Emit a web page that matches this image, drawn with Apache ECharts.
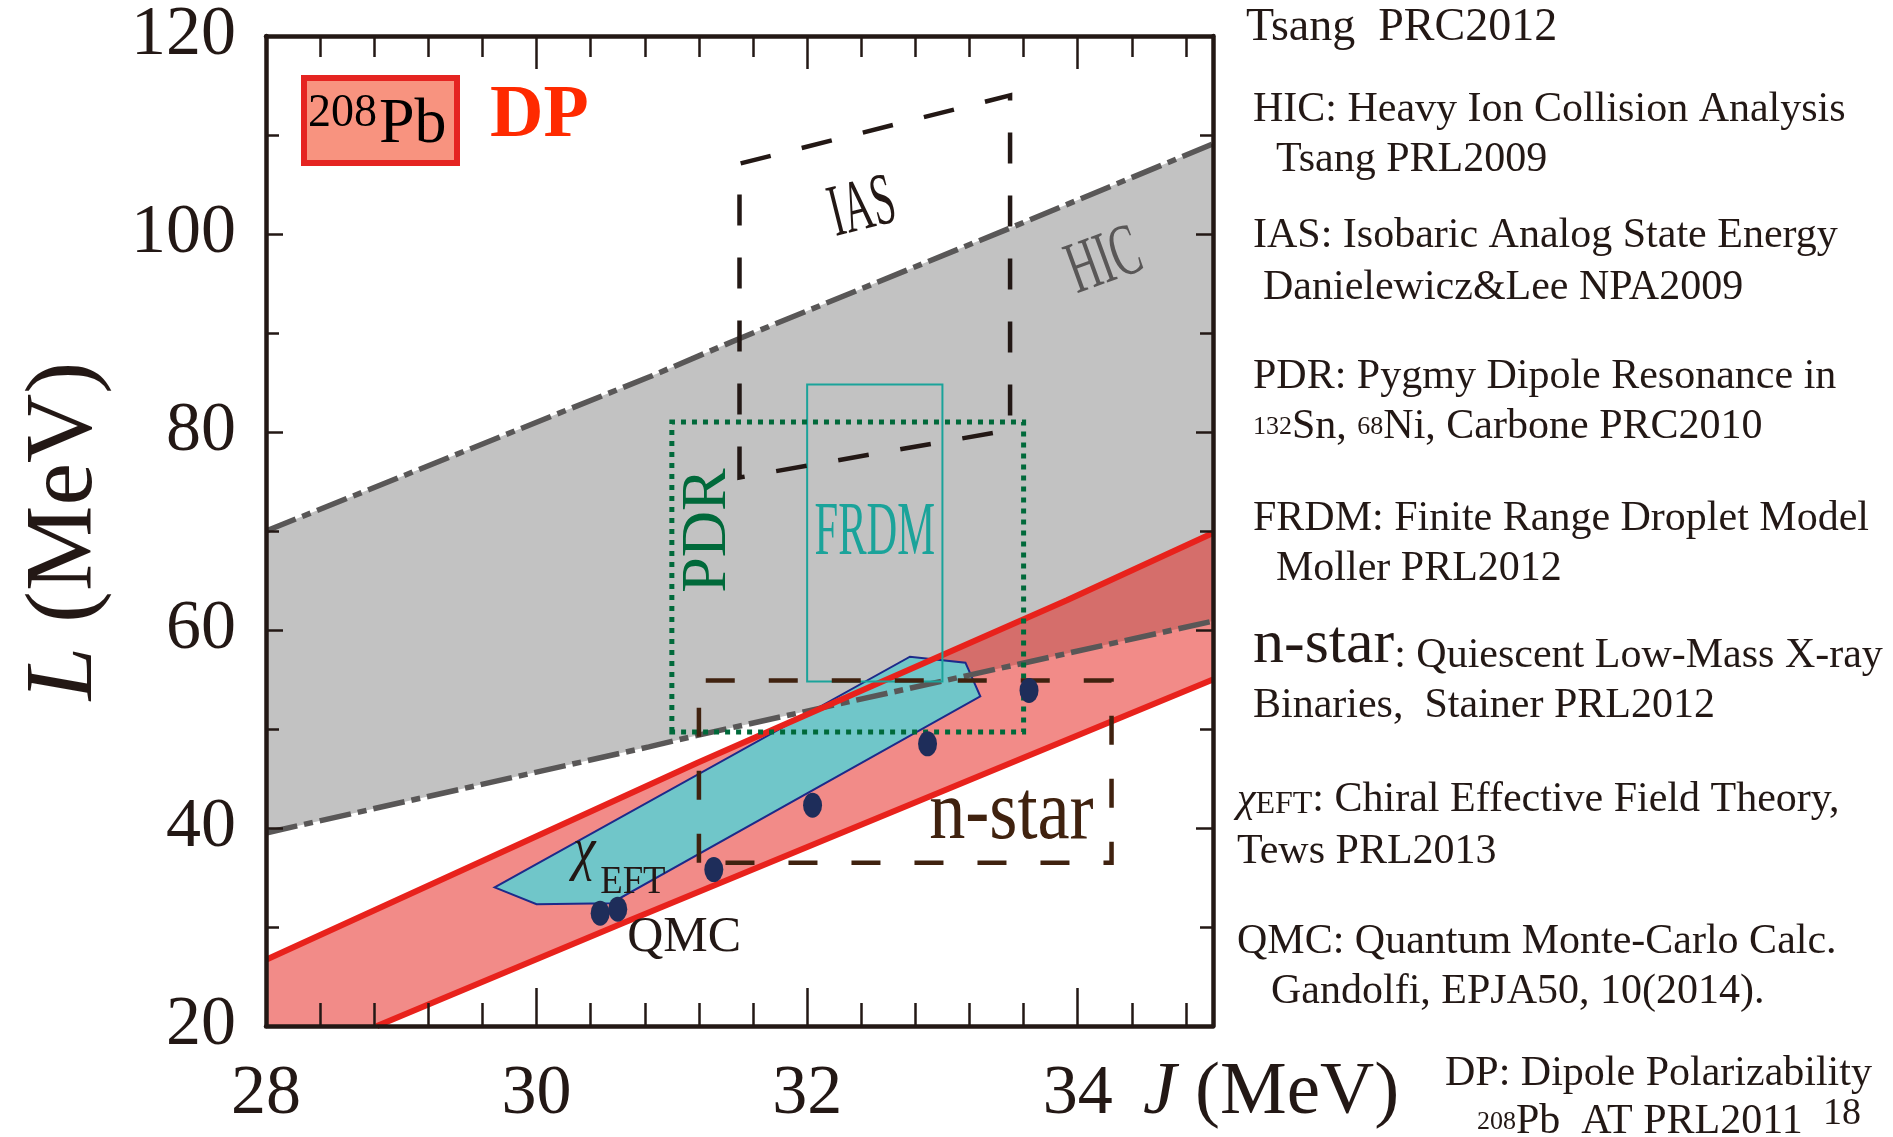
<!DOCTYPE html>
<html>
<head>
<meta charset="utf-8">
<title>Symmetry energy constraints</title>
<script src="https://cdn.jsdelivr.net/npm/echarts@6/dist/echarts.min.js"></script>
<style>
  html, body { margin: 0; padding: 0; background: #ffffff; }
  #chart { width: 1893px; height: 1137px; }
</style>
</head>
<body>
<div id="chart"></div>
<script>
// ---------------------------------------------------------------
// Constraints on the symmetry energy J and its slope L (both MeV)
// ---------------------------------------------------------------
const jTicks = [28, 30, 32, 34];          // labelled J ticks
const lTicks = [20, 40, 60, 80, 100, 120]; // labelled L ticks
const jMax = 35;

// HIC band edges (heavy ion collisions)
const hicUpper = [[28, 70.0], [30.84, 85.6], [31.51, 89.5], [33.5, 100.6], [35, 109.1]];
const hicLower = [[28, 39.5], [30.83, 48.2], [31.17, 49.3], [35, 60.9]];

// 208Pb dipole polarizability band edges
const dpUpper = [[28, 26.7], [31.19, 46.6], [33.92, 63.0], [35, 69.8]];
const dpLower = [[28.82, 20.0], [30.64, 30.4], [35, 55.0]];

// chiral EFT region
const chiEftRegion = [[29.69, 34.0], [30.0, 32.3], [30.55, 32.4], [33.28, 53.3], [33.17, 56.7], [32.76, 57.3]];

// IAS region (corners)
const iasRegion = [[31.5, 75.4], [31.5, 107.1], [33.5, 114.0], [33.5, 80.2]];

// rectangular constraints: J range, L range
const pdrJ = [31.0, 33.6],   pdrL = [49.7, 81.0];
const frdmJ = [32.0, 33.0],  frdmL = [54.8, 84.8];
const nstarJ = [31.2, 34.25], nstarL = [36.5, 54.9];

// QMC calculations
const qmcJ = [30.47, 30.60, 31.31, 32.04, 32.89, 33.64];
const qmcL = [31.4, 31.8, 35.8, 42.3, 48.5, 53.9];

// region names placed in (J, L)
const regionLabels = [
  { text: 'IAS',    at: [32.41, 102.5] },
  { text: 'HIC',    at: [34.2, 97.1] },
  { text: 'FRDM',   at: [32.5, 69.7] },
  { text: 'PDR',    at: [31.27, 70.05] },
  { text: 'n-star', at: [33.51, 41.2] },
  { text: 'QMC',    at: [30.67, 28.9] },
  { text: 'χ',      at: [30.27, 37.6] },
  { text: 'EFT',    at: [30.47, 34.46] }
];

// reference list
const noteLines = [
  'Tsang  PRC2012',
  'HIC: Heavy Ion Collision Analysis',
  'Tsang PRL2009',
  'IAS: Isobaric Analog State Energy',
  'Danielewicz&Lee NPA2009',
  'PDR: Pygmy Dipole Resonance in',
  '{sup|132}Sn, {sup|68}Ni, Carbone PRC2010',
  'FRDM: Finite Range Droplet Model',
  'Moller PRL2012',
  '{big|n-star}{t|: Quiescent Low-Mass X-ray}',
  'Binaries,  Stainer PRL2012',
  '{chi|χ}{sub|EFT}: Chiral Effective Field Theory,',
  'Tews PRL2013',
  'QMC: Quantum Monte-Carlo Calc.',
  'Gandolfi, EPJA50, 10(2014).',
  'DP: Dipole Polarizability',
  '{sup|208}Pb  AT PRL2011',
  '{pg|18}'
];

// ---------------------------------------------------------------
const SERIF = '"Liberation Serif", "Times New Roman", Times, serif';
const INK = '#231815';

// pixel anchors (left, middle) of the reference list lines
const noteAnchors = [
  [1246, 28], [1253, 110], [1276, 160], [1253, 236], [1263, 288],
  [1253, 377], [1253, 427], [1253, 519], [1276, 569], [1253, 646],
  [1253, 706], [1237, 800], [1237, 852], [1237, 942], [1271, 992],
  [1445, 1074], [1477, 1122], [1823, 1114]
];

const labelStyle = {
  'IAS':    { color: INK,       size: 74, scaleX: 0.55, rotate: 14 },
  'HIC':    { color: '#595757', size: 74, scaleX: 0.58, rotate: 20 },
  'FRDM':   { color: '#1ba39a', size: 76, scaleX: 0.56 },
  'PDR':    { color: '#00693a', size: 64, rotate: 90 },
  'n-star': { color: '#40220f', size: 84, scaleX: 0.86 },
  'QMC':    { color: INK,       size: 50, align: 'left' },
  'χ':      { color: INK,       size: 60, scaleX: 0.85, align: 'left', italic: true },
  'EFT':    { color: INK,       size: 40, scaleX: 0.92, align: 'left' }
};

function rectCorners(j, l) {
  return [[j[0], l[0]], [j[0], l[1]], [j[1], l[1]], [j[1], l[0]]];
}

function regionSeries(name, points, style, z) {
  return {
    type: 'custom',
    name: name,
    coordinateSystem: 'cartesian2d',
    xAxisIndex: 0, yAxisIndex: 0,
    silent: true,
    clip: true,
    z: z,
    encode: { x: 0, y: 1 },
    data: points,
    renderItem: function (params, api) {
      if (params.dataIndex !== 0) return null;
      return {
        type: 'polygon',
        shape: { points: points.map(function (p) { return api.coord(p); }) },
        style: style
      };
    }
  };
}

function edgeSeries(name, points, lineStyle, z) {
  return {
    type: 'line', name: name, data: points,
    xAxisIndex: 0, yAxisIndex: 0,
    symbol: 'none', showSymbol: false, silent: true, clip: true,
    lineStyle: lineStyle, z: z
  };
}

const xMin = jTicks[0], yMin = lTicks[0];
const hicPolygon = hicUpper.concat(hicLower.slice().reverse());
const dpPolygon = dpUpper.concat(dpLower.slice().reverse(), [[xMin, yMin]]);

function tickFormatter(list) {
  return function (v) { return list.indexOf(v) >= 0 ? String(v) : ''; };
}

const axisLineStyle = { color: INK, width: 4.5 };
const tickLine = { color: INK, width: 2.5 };

function xAxisCfg(position, showLabel, majorLen, minorLen) {
  return {
    type: 'value', position: position,
    min: jTicks[0], max: jMax, interval: jTicks[1] - jTicks[0],
    z: 10,
    axisLine: { show: true, onZero: false, lineStyle: axisLineStyle },
    axisTick: { show: true, inside: true, length: majorLen, lineStyle: tickLine },
    minorTick: { show: true, splitNumber: 5, length: minorLen, lineStyle: tickLine },
    splitLine: { show: false },
    axisLabel: {
      show: showLabel, margin: 34, fontSize: 70, fontFamily: SERIF, color: INK,
      formatter: tickFormatter(jTicks)
    }
  };
}

function yAxisCfg(position, showLabel) {
  return {
    type: 'value', position: position,
    min: lTicks[0], max: lTicks[lTicks.length - 1], interval: lTicks[1] - lTicks[0],
    z: 10,
    axisLine: { show: true, onZero: false, lineStyle: axisLineStyle },
    axisTick: { show: true, inside: true, length: 17, lineStyle: tickLine },
    minorTick: { show: true, splitNumber: 2, length: 13, lineStyle: tickLine },
    splitLine: { show: false },
    axisLabel: {
      show: showLabel, margin: 30, fontSize: 70, fontFamily: SERIF, color: INK,
      formatter: tickFormatter(lTicks)
    }
  };
}

const xBottom = xAxisCfg('bottom', true, 38, 23);
xBottom.name = '{i|J} (MeV)';
xBottom.nameLocation = 'end';
xBottom.nameGap = -70;
xBottom.nameMoveOverlap = false;
xBottom.nameTextStyle = {
  fontSize: 75, fontFamily: SERIF, color: INK,
  align: 'left', verticalAlign: 'top', padding: [30, 0, 0, 0],
  rich: { i: { fontSize: 75, fontFamily: SERIF, fontStyle: 'italic', color: INK } }
};

const yLeft = yAxisCfg('left', true);
yLeft.name = '{i|L} (MeV)';
yLeft.nameLocation = 'middle';
yLeft.nameRotate = 90;
yLeft.nameGap = 152;
yLeft.nameMoveOverlap = false;
yLeft.nameTextStyle = {
  fontSize: 96, fontFamily: SERIF, color: INK,
  rich: { i: { fontSize: 96, fontFamily: SERIF, fontStyle: 'italic', color: INK } }
};

const noteRich = {
  sup: { fontSize: 26, fontFamily: SERIF, color: INK, verticalAlign: 'middle' },
  sub: { fontSize: 32, fontFamily: SERIF, color: INK, verticalAlign: 'bottom' },
  chi: { fontSize: 42, fontFamily: SERIF, fontStyle: 'italic', color: INK, verticalAlign: 'middle' },
  big: { fontSize: 62, fontFamily: SERIF, color: INK, lineHeight: 62, verticalAlign: 'middle' },
  t:   { fontSize: 42, fontFamily: SERIF, color: INK, lineHeight: 50, verticalAlign: 'bottom' },
  pg:  { fontSize: 38, fontFamily: SERIF, color: INK }
};

const noteElements = noteLines.map(function (line, i) {
  return {
    type: 'text',
    x: noteAnchors[i][0], y: noteAnchors[i][1],
    z: 100,
    silent: true,
    style: {
      text: line,
      fontSize: i === 0 ? 46 : 42,
      fontFamily: SERIF,
      fill: INK,
      align: 'left',
      verticalAlign: 'middle',
      rich: noteRich
    }
  };
});

const hicEdge = { color: '#595757', width: 5.5, type: [32, 7, 9, 7] };
const dpEdge = { color: '#e8221c', width: 6 };

const option = {
  animation: false,
  backgroundColor: '#ffffff',
  grid: {
    left: 266, top: 36, width: 947, height: 990,
    outerBoundsMode: 'none',
    containLabel: false
  },
  xAxis: [xBottom, xAxisCfg('top', false, 33, 21)],
  yAxis: [yLeft, yAxisCfg('right', false)],
  series: [
    regionSeries('HIC', hicPolygon, { fill: '#c2c2c2' }, 1),
    regionSeries('DP', dpPolygon, { fill: 'rgba(231, 35, 30, 0.53)' }, 2),
    regionSeries('χEFT', chiEftRegion, { fill: '#70c6c9', stroke: '#1d2a8a', lineWidth: 2 }, 3),
    edgeSeries('HIC upper', hicUpper, hicEdge, 4),
    edgeSeries('HIC lower', hicLower, hicEdge, 4),
    edgeSeries('DP upper', dpUpper, dpEdge, 5),
    edgeSeries('DP lower', dpLower, dpEdge, 5),
    regionSeries('FRDM', rectCorners(frdmJ, frdmL), { fill: 'none', stroke: '#1ba39a', lineWidth: 2 }, 6),
    regionSeries('PDR', rectCorners(pdrJ, pdrL), { fill: 'none', stroke: '#00693a', lineWidth: 5, lineDash: [5, 6] }, 6),
    regionSeries('IAS', iasRegion, { fill: 'none', stroke: INK, lineWidth: 4.5, lineDash: [31, 32] }, 6),
    regionSeries('n-star', rectCorners(nstarJ, nstarL), { fill: 'none', stroke: '#40220f', lineWidth: 4.5, lineDash: [29, 34] }, 6),
    {
      type: 'scatter', name: 'QMC',
      xAxisIndex: 0, yAxisIndex: 0,
      data: qmcJ.map(function (j, i) { return [j, qmcL[i]]; }),
      symbol: 'circle', symbolSize: [19, 25],
      itemStyle: { color: '#1e2d5a', opacity: 1 },
      silent: true, z: 8
    },
    {
      type: 'custom', name: 'labels',
      coordinateSystem: 'cartesian2d',
      xAxisIndex: 0, yAxisIndex: 0,
      silent: true, z: 9,
      encode: { x: 0, y: 1 },
      data: regionLabels.map(function (d) { return d.at; }),
      renderItem: function (params, api) {
        const lab = regionLabels[params.dataIndex];
        const st = labelStyle[lab.text];
        const p = api.coord(lab.at);
        return {
          type: 'text',
          x: p[0], y: p[1],
          rotation: (st.rotate || 0) * Math.PI / 180,
          scaleX: st.scaleX || 1,
          style: {
            text: lab.text,
            fill: st.color,
            fontFamily: SERIF,
            fontStyle: st.italic ? 'italic' : 'normal',
            fontSize: st.size,
            align: st.align || 'center',
            verticalAlign: 'middle'
          }
        };
      }
    }
  ],
  graphic: {
    elements: [
      {
        type: 'rect', z: 100, silent: true,
        shape: { x: 304, y: 78, width: 153, height: 85 },
        style: { fill: '#f8937f', stroke: '#e52421', lineWidth: 6 }
      },
      {
        type: 'text', x: 308, y: 114, z: 101, silent: true,
        style: { text: '208', fontSize: 46, fontFamily: SERIF, fill: '#000000', align: 'left', verticalAlign: 'middle' }
      },
      {
        type: 'text', x: 379, y: 125, z: 101, silent: true,
        style: { text: 'Pb', fontSize: 64, fontFamily: SERIF, fill: '#000000', align: 'left', verticalAlign: 'middle' }
      },
      {
        type: 'text', x: 490, y: 117, z: 101, silent: true,
        style: { text: 'DP', fontSize: 74, fontWeight: 'bold', fontFamily: SERIF, fill: '#ff2a00', align: 'left', verticalAlign: 'middle' }
      }
    ].concat(noteElements)
  }
};

const chart = echarts.init(document.getElementById('chart'), null, { renderer: 'canvas' });
chart.setOption(option);
</script>
</body>
</html>
